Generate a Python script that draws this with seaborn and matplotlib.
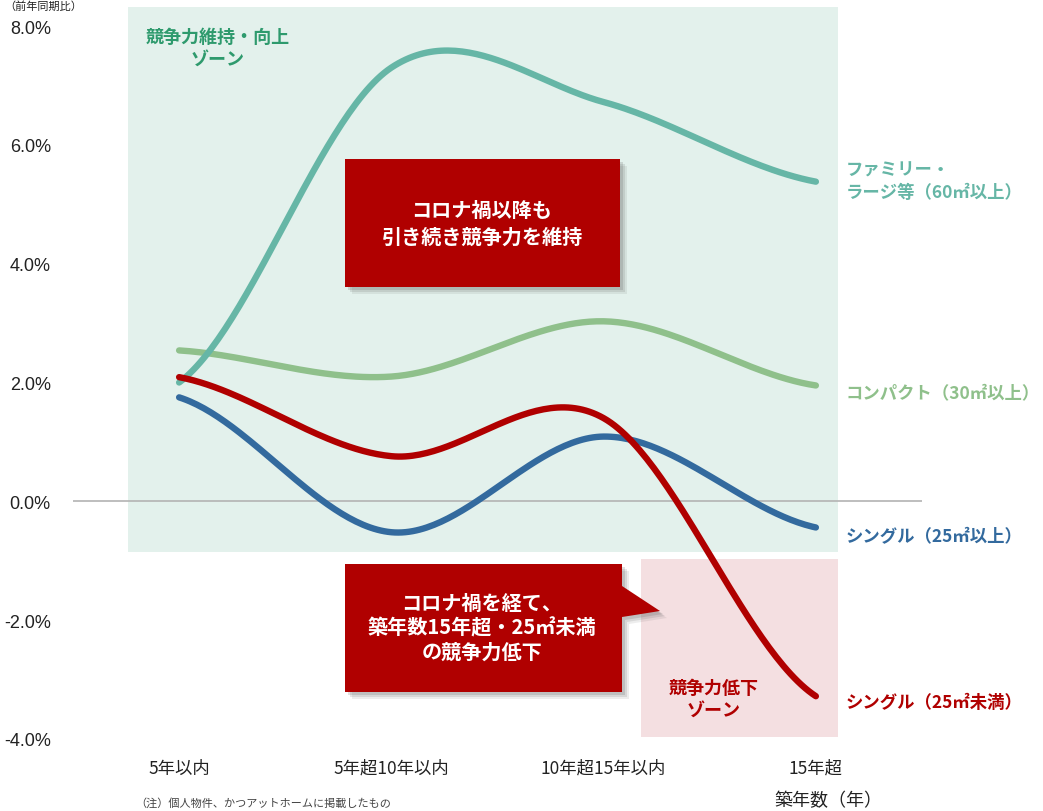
import numpy as np
import pandas as pd
import matplotlib
matplotlib.use("Agg")
import matplotlib.pyplot as plt
from matplotlib.patches import Polygon
import seaborn as sns

# ---- data -------------------------------------------------------------
categories = ["5年以内", "5年超10年以内", "10年超15年以内", "15年超"]
family_large = [2.00, 7.30, 6.72, 5.38]      # ファミリー・ラージ等（60㎡以上）
compact = [2.54, 2.10, 3.03, 1.95]           # コンパクト（30㎡以上）
single_25up = [1.75, -0.52, 1.09, -0.44]     # シングル（25㎡以上）
single_25under = [2.09, 0.76, 1.40, -3.28]   # シングル（25㎡未満）
y_ticks = [-4.0, -2.0, 0.0, 2.0, 4.0, 6.0, 8.0]

series_names = ["ファミリー・\nラージ等（60㎡以上）", "コンパクト（30㎡以上）",
                "シングル（25㎡以上）", "シングル（25㎡未満）"]
series_values = [family_large, compact, single_25up, single_25under]
series_colors = ["#66b6a6", "#8fc08b", "#336a9e", "#b00000"]

# ---- style --------------------------------------------------------------
sns.set_theme(style="white")
plt.rcParams["font.family"] = ["Noto Sans CJK JP", "DejaVu Sans"]

W, H = 1043, 812
fig = plt.figure(figsize=(W / 100, H / 100), dpi=100)
ax = fig.add_axes([73 / W, 72 / H, 849 / W, 713 / H])
ax.set_xlim(-0.5, 3.5)
ax.set_ylim(-4, 8)
ax.patch.set_alpha(0)


def fp(px, py):
    """figure-pixel (from top-left) -> figure fraction"""
    return (px / W, 1 - py / H)


def smooth(vals, n=60):
    """Cardinal (Catmull-Rom) spline through the category points."""
    x = np.arange(len(vals), dtype=float)
    y = np.asarray(vals, dtype=float)
    xs, ys = [], []
    for i in range(len(vals) - 1):
        y0 = y[i - 1] if i > 0 else y[i]
        y3 = y[i + 2] if i + 2 < len(vals) else y[i + 1]
        m0 = (y[i + 1] - y0) / 2
        m1 = (y3 - y[i]) / 2
        t = np.linspace(0, 1, n, endpoint=(i == len(vals) - 2))
        h00 = 2 * t**3 - 3 * t**2 + 1
        h10 = t**3 - 2 * t**2 + t
        h01 = -2 * t**3 + 3 * t**2
        h11 = t**3 - t**2
        xs.append(x[i] + t)
        ys.append(h00 * y[i] + h10 * m0 + h01 * y[i + 1] + h11 * m1)
    return np.concatenate(xs), np.concatenate(ys)


def add_poly(points_px, **kw):
    p = Polygon([fp(x, y) for x, y in points_px], closed=True,
                transform=fig.transFigure, clip_on=False, edgecolor="none", **kw)
    ax.add_patch(p)
    return p


# ---- background zones -----------------------------------------------------
add_poly([(128, 8), (838, 8), (838, 553), (128, 553)], facecolor="#e3f1ec", zorder=0)
add_poly([(641, 560), (838, 560), (838, 738), (641, 738)], facecolor="#f4dfe1", zorder=0)

ax.axhline(0, color="#b3b3b3", lw=1.2, zorder=1)

# ---- lines ------------------------------------------------------------------
frames = []
for name, vals in zip(series_names, series_values):
    sx, sy = smooth(vals)
    frames.append(pd.DataFrame({"x": sx, "y": sy, "series": name}))
df = pd.concat(frames, ignore_index=True)
order = [series_names[i] for i in (1, 0, 2, 3)]
sns.lineplot(data=df, x="x", y="y", hue="series", hue_order=order,
             palette=dict(zip(series_names, series_colors)), sort=False,
             lw=4.6, legend=False, ax=ax, zorder=3,
             solid_capstyle="round", estimator=None)

# ---- series labels at the right ------------------------------------------------
label_dy = [0.02, -0.12, -0.14, -0.10]
for name, vals, col, dy in zip(series_names, series_values, series_colors, label_dy):
    ax.text(3.14, vals[-1] + dy, name, color=col, fontsize=12.5, fontweight="bold",
            ha="left", va="center", linespacing=1.3, clip_on=False)

# ---- axes ---------------------------------------------------------------------
ax.set_xticks(range(len(categories)))
ax.set_xticklabels(categories, fontsize=12.5)
ax.set_yticks(y_ticks)
ax.set_yticklabels([f"{v:.1f}%" for v in y_ticks], fontsize=13,
                   family=["Liberation Sans", "DejaVu Sans"])
ax.tick_params(axis="x", length=0, pad=14, colors="#222222")
ax.tick_params(axis="y", length=0, pad=16, colors="#222222")
ax.set_xlabel("")
ax.set_ylabel("")
for s in ax.spines.values():
    s.set_visible(False)

fig.text(*fp(828, 801), "築年数（年）", fontsize=13, ha="center", va="center",
         color="#222222")
fig.text(*fp(4, 7), "（前年同期比）", fontsize=8, ha="left", va="center",
         color="#222222")
fig.text(*fp(135, 803), "（注）個人物件、かつアットホームに掲載したもの", fontsize=8,
         ha="left", va="center", color="#444444")

# ---- zone captions ----------------------------------------------------------------
ax.text(*fp(218, 48), "競争力維持・向上\nゾーン", transform=fig.transFigure,
        color="#2e9a6d", fontsize=13, fontweight="bold", ha="center",
        va="center", linespacing=1.2, zorder=2, clip_on=False)
ax.text(*fp(714, 699), "競争力低下\nゾーン", transform=fig.transFigure,
        color="#b00000", fontsize=13, fontweight="bold", ha="center",
        va="center", linespacing=1.2, zorder=2, clip_on=False)

# ---- callout boxes --------------------------------------------------------------------
RED = "#b00000"


def shadowed(poly_px):
    for k, a in zip((7, 5, 3), (0.10, 0.14, 0.18)):
        add_poly([(x + k, y + k) for x, y in poly_px], facecolor="#555555",
                 alpha=a, zorder=4)
    add_poly(poly_px, facecolor=RED, zorder=5)


shadowed([(345, 160), (620, 160), (620, 288), (345, 288)])
shadowed([(345, 565), (622, 565), (622, 587), (660, 612), (622, 618),
          (622, 693), (345, 693)])

ax.text(*fp(482, 224), "コロナ禍以降も\n引き続き競争力を維持", transform=fig.transFigure,
        color="white", fontsize=14.5, fontweight="bold", ha="center",
        va="center", linespacing=1.35, zorder=6, clip_on=False)
ax.text(*fp(482, 628), "コロナ禍を経て、\n築年数15年超・25㎡未満\nの競争力低下",
        transform=fig.transFigure, color="white", fontsize=14.5,
        fontweight="bold", ha="center", va="center", linespacing=1.2,
        zorder=6, clip_on=False)

fig.savefig("out.png", dpi=100)
